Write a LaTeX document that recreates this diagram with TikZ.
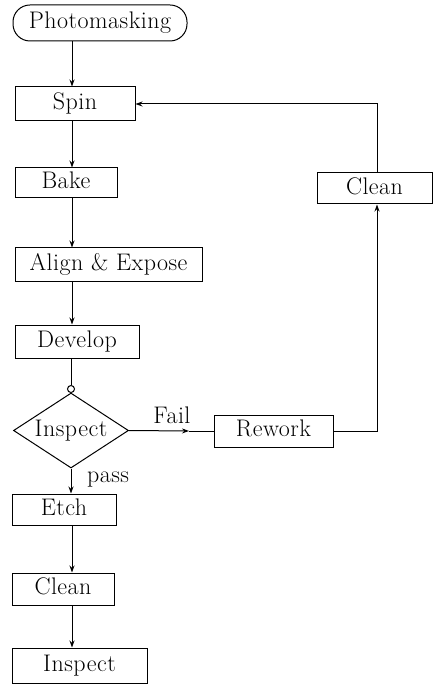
\documentclass[tikz,border=0pt]{standalone}
\usepackage{fontspec}
\setmainfont{Latin Modern Roman}[LetterSpace=2]
\usetikzlibrary{arrows.meta,shapes.geometric}
\begin{document}
\begin{tikzpicture}[x=1pt,y=-1pt,
  every node/.style={font=\fontsize{24}{28}\selectfont, inner sep=0pt, text height=16.5pt, text depth=5pt},
  proc/.style={draw, line width=1pt, rectangle},
  term/.style={draw, line width=1pt, rectangle, rounded corners=17pt},
  arr/.style={-{Stealth[length=7pt,width=5pt]}, line width=1pt},
  ln/.style={line width=1pt}]
\useasboundingbox (0,0) rectangle (439,684);
% nodes
\node[term, minimum width=174pt, minimum height=36pt] (photo) at (100,23) {Photomasking};
\node[proc, minimum width=120pt, minimum height=34pt] (spin) at (75,104) {Spin};
\node[proc, minimum width=102pt, minimum height=30pt] (bake) at (66,183) {Bake};
\node[proc, minimum width=187pt, minimum height=33pt] (align) at (108.5,264.5) {Align \& Expose};
\node[proc, minimum width=124pt, minimum height=33pt] (develop) at (77,341.5) {Develop};
\node[circle, draw, line width=1pt, minimum size=7pt, text height=0pt, text depth=0pt] (knot) at (71,389) {};
\node[diamond, draw, line width=1pt, minimum width=115pt, minimum height=75pt, text height=0pt, text depth=0pt] (insp) at (71,430.5) {};
\node (insptext) at (insp.center) {Inspect};
\node[proc, minimum width=104pt, minimum height=31pt] (etch) at (64,509.5) {Etch};
\node[proc, minimum width=102pt, minimum height=32pt] (clean1) at (63,589) {Clean};
\node[proc, minimum width=135pt, minimum height=35pt] (inspect2) at (79.5,665.5) {Inspect};
\node[proc, minimum width=119pt, minimum height=32pt] (rework) at (273.5,431) {Rework};
\node[proc, minimum width=115pt, minimum height=31pt] (clean2) at (374.5,188.5) {Clean};
% labels
\node (fail) at (172,418) {Fail};
\node (pass) at (108,477) {pass};
% helper coordinates
\coordinate (col) at (72,0);
\coordinate (rr) at (377,0);
\coordinate (failtip) at (189,431);
% connectors
\draw[arr] (photo.south -| col) -- (spin.north -| col);
\draw[arr] (spin.south -| col) -- (bake.north -| col);
\draw[arr] (bake.south -| col) -- (align.north -| col);
\draw[arr] (align.south -| col) -- (develop.north -| col);
\draw[ln] (develop.south -| knot) -- (knot.north);
\draw[arr] (insp.south) -- (etch.north -| insp.south);
\draw[arr] (etch.south -| col) -- (clean1.north -| col);
\draw[arr] (clean1.south -| col) -- (inspect2.north -| col);
\draw[arr] (insp.east) -- (failtip);
\draw[ln] (failtip) -- (rework.west);
\draw[arr] (rework.east) -| (rr |- clean2.south);
\draw[arr] (rr |- clean2.north) |- (spin.east);
\end{tikzpicture}
\end{document}
